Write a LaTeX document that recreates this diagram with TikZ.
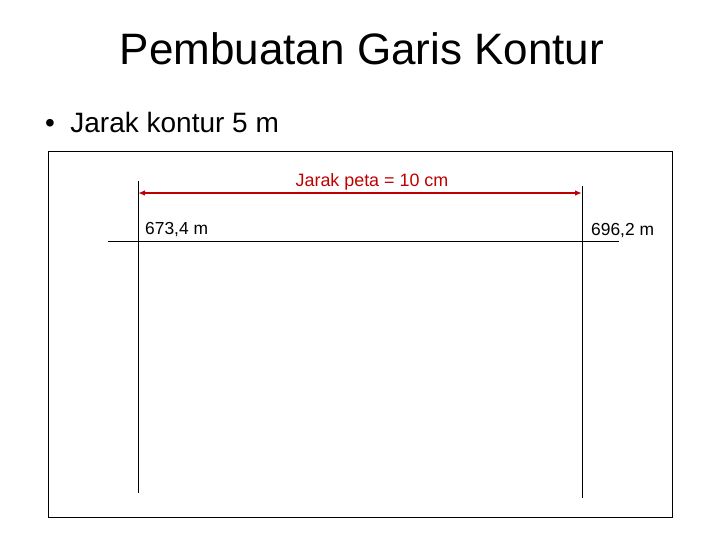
\documentclass[tikz,border=0pt]{standalone}
\usepackage{fontspec}
\setmainfont{Liberation Sans}
\usetikzlibrary{arrows.meta}
\definecolor{dimred}{RGB}{192,0,0}
\begin{document}
\begin{tikzpicture}[x=1pt,y=-1pt,
  thinline/.style={line width=1pt,black},
  lbl/.style={inner sep=0pt,font=\fontsize{17.4}{19}\selectfont},
  dimarrow/.style={line width=1.5pt,dimred,{Latex[length=7pt,width=5.5pt]}-{Latex[length=7pt,width=5.5pt]}}]
\useasboundingbox (0,0) rectangle (720,540);
\node[inner sep=0pt,anchor=base,font=\fontsize{44}{48}\selectfont] (title) at (362,65) {Pembuatan Garis Kontur};
\node[inner sep=0pt,anchor=base west,font=\fontsize{28}{32}\selectfont] (bullet) at (45,133) {•\hspace{0.55em}Jarak kontur 5 m};
\draw[thinline] (48,152) rectangle (672,517);
\coordinate (lt) at (138,181);
\coordinate (lb) at (138,493);
\coordinate (rt) at (582,186);
\coordinate (rb) at (582,498);
\coordinate (hl) at (108,241);
\coordinate (hr) at (619,241);
\draw[thinline] (lt) -- (lb);
\draw[thinline] (rt) -- (rb);
\draw[thinline] (hl) -- (hr);
\coordinate (al) at (138,193);
\coordinate (ar) at (582,193);
\draw[dimarrow] (al) -- (ar);
\node[lbl,anchor=base,text=dimred,font=\fontsize{17.9}{19}\selectfont] (dist) at (372,187) {Jarak peta = 10 cm};
\node[lbl,anchor=base west] (v1) at (145,235) {673,4 m};
\node[lbl,anchor=base west] (v2) at (591,236) {696,2 m};
\end{tikzpicture}
\end{document}
